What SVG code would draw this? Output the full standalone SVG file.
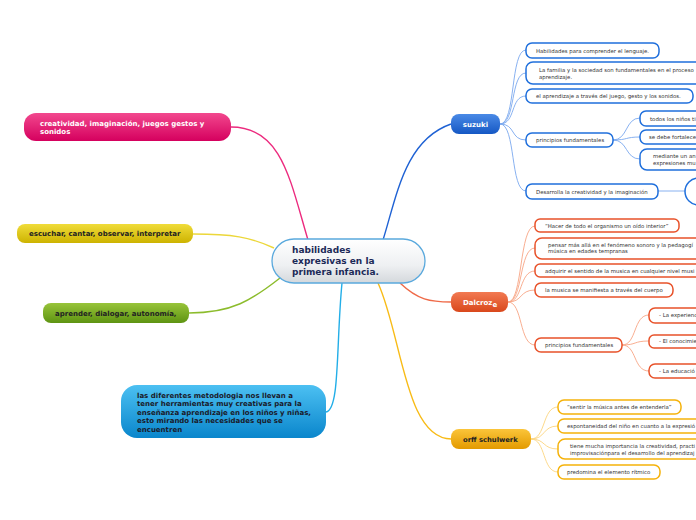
<svg xmlns="http://www.w3.org/2000/svg" width="696" height="520" viewBox="0 0 696 520">
<defs>
<linearGradient id="gC" x1="0" y1="0" x2="0" y2="1"><stop offset="0" stop-color="#ffffff"/><stop offset="0.6" stop-color="#eef0f2"/><stop offset="1" stop-color="#d4d8dc"/></linearGradient>
<linearGradient id="gBlue" x1="0" y1="0" x2="0" y2="1"><stop offset="0" stop-color="#4a8ae6"/><stop offset="1" stop-color="#1558c4"/></linearGradient>
<linearGradient id="gOrange" x1="0" y1="0" x2="0" y2="1"><stop offset="0" stop-color="#f27a52"/><stop offset="1" stop-color="#d9481c"/></linearGradient>
<linearGradient id="gGold" x1="0" y1="0" x2="0" y2="1"><stop offset="0" stop-color="#fbc53a"/><stop offset="1" stop-color="#e39a00"/></linearGradient>
<linearGradient id="gPink" x1="0" y1="0" x2="0" y2="1"><stop offset="0" stop-color="#f2488e"/><stop offset="1" stop-color="#d5005e"/></linearGradient>
<linearGradient id="gYellow" x1="0" y1="0" x2="0" y2="1"><stop offset="0" stop-color="#f0dc3a"/><stop offset="1" stop-color="#cdb300"/></linearGradient>
<linearGradient id="gGreen" x1="0" y1="0" x2="0" y2="1"><stop offset="0" stop-color="#98c43a"/><stop offset="1" stop-color="#5e9412"/></linearGradient>
<linearGradient id="gSky" x1="0" y1="0" x2="0" y2="1"><stop offset="0" stop-color="#4cc0f2"/><stop offset="1" stop-color="#0a86cc"/></linearGradient>
</defs>
<style>
.t{font-family:"DejaVu Sans",Verdana,sans-serif;font-size:5.4px;fill:#333}
.b{font-family:"DejaVu Sans",Verdana,sans-serif;font-weight:bold}
.cb{fill:#fff;stroke:#1f6fdc;stroke-width:1.5}
.co{fill:#fff;stroke:#e8522a;stroke-width:1.5}
.cy{fill:#fff;stroke:#f5b20a;stroke-width:1.5}
.lb{fill:none;stroke:#7aa8ee;stroke-width:0.9}
.lo{fill:none;stroke:#f7a585;stroke-width:0.9}
.ly{fill:none;stroke:#fcd57e;stroke-width:0.9}
.m{fill:none;stroke-width:1.4}
</style>
<g id="connectors">
<path class="m" stroke="#1f62d4" d="M383,240 C397,195 405,140 451,124"/>
<path class="m" stroke="#ef6a48" d="M400,283 C418,300 430,302 451,302"/>
<path class="m" stroke="#f8bb16" d="M378,283 C402,335 405,440 452,439"/>
<path class="m" stroke="#22aee8" d="M342,283 C336,345 340,410 326,412"/>
<path class="m" stroke="#ec2a7e" d="M308,240 C290,180 282,127 231,127"/>
<path class="m" stroke="#ecd73a" d="M274,248 C250,237 232,234 193,234"/>
<path class="m" stroke="#8cbc2c" d="M280,278 C252,300 232,313 189,313"/>
<path class="lb" d="M500,124 C516,124 510,50 526,50"/>
<path class="lb" d="M500,124 C516,124 510,73 526,73"/>
<path class="lb" d="M500,124 C516,124 510,96 526,96"/>
<path class="lb" d="M500,124 C516,124 510,140 526,140"/>
<path class="lb" d="M500,124 C516,124 510,191 526,191"/>
<path class="lb" d="M613,140 C628,140 625,118 640,118"/>
<path class="lb" d="M613,140 C628,140 625,137 640,137"/>
<path class="lb" d="M613,140 C628,140 625,159 640,159"/>
<path class="lb" d="M658,191 L685,191"/>
<path class="lo" d="M508,302 C523,302 519,226 535,226"/>
<path class="lo" d="M508,302 C523,302 519,248 535,248"/>
<path class="lo" d="M508,302 C523,302 519,271 535,271"/>
<path class="lo" d="M508,302 C523,302 519,290 535,290"/>
<path class="lo" d="M508,302 C523,302 519,345 535,345"/>
<path class="lo" d="M622,345 C637,345 633,315 649,315"/>
<path class="lo" d="M622,345 C637,345 633,341 649,341"/>
<path class="lo" d="M622,345 C637,345 633,371 649,371"/>
<path class="ly" d="M531,439 C546,439 542,407 558,407"/>
<path class="ly" d="M531,439 C546,439 542,426 558,426"/>
<path class="ly" d="M531,439 C546,439 542,449 558,449"/>
<path class="ly" d="M531,439 C546,439 542,472 558,472"/>
</g>
<g id="central">
<rect x="272" y="239" width="153" height="44" rx="22" fill="url(#gC)" stroke="#5aa9dd" stroke-width="1.3"/>
<text class="b" font-size="9" fill="#1c2a58"><tspan x="292" y="253">habilidades</tspan><tspan x="292" y="264">expresivas en la</tspan><tspan x="292" y="275">primera infancia.</tspan></text>
</g>
<g id="suzuki">
<rect x="451" y="114" width="49" height="20" rx="8" fill="url(#gBlue)"/>
<text class="b" x="475.5" y="127" font-size="7" fill="#fff" text-anchor="middle">suzuki</text>
</g>
<g id="s1"><rect class="cb" x="526" y="43" width="133" height="15" rx="6"/><text class="t" x="536" y="52.5">Habilidades para comprender el lenguaje.</text></g>
<g id="s2"><rect class="cb" x="526" y="62" width="180" height="22" rx="7"/><text class="t"><tspan x="539" y="72">La familia y la sociedad son fundamentales en el proceso</tspan><tspan x="539" y="79">aprendizaje.</tspan></text></g>
<g id="s3"><rect class="cb" x="526" y="89" width="167" height="14" rx="6"/><text class="t" x="536" y="98">el aprendizaje a través del juego, gesto y los sonidos.</text></g>
<g id="s4"><rect class="cb" x="526" y="133" width="87" height="14" rx="6"/><text class="t" x="536" y="142">principios fundamentales</text></g>
<g id="s41"><rect class="cb" x="640" y="111" width="70" height="15" rx="6"/><text class="t" x="650" y="120.5">todos los niños ti</text></g>
<g id="s42"><rect class="cb" x="640" y="130" width="70" height="14" rx="6"/><text class="t" x="649" y="139">se debe fortalece</text></g>
<g id="s43"><rect class="cb" x="640" y="149" width="70" height="21" rx="7"/><text class="t"><tspan x="653" y="158">mediante un an</tspan><tspan x="653" y="164.5">expresiones mu</tspan></text></g>
<g id="s5"><rect class="cb" x="526" y="184" width="132" height="15" rx="6"/><text class="t" x="536" y="193.5">Desarrolla la creatividad y la imaginación</text></g>
<g id="s51"><rect class="cb" x="685" y="178" width="40" height="27" rx="13.5"/></g>
<g id="dalcroze">
<rect x="451" y="292" width="57" height="20" rx="8" fill="url(#gOrange)"/>
<text class="b" x="463" y="305" font-size="7" fill="#fff">Dalcroz<tspan dy="1.5">e</tspan></text>
</g>
<g id="d1"><rect class="co" x="535" y="219" width="144" height="13" rx="5"/><text class="t" x="545" y="228">“Hacer de todo el organismo un oído interior”</text></g>
<g id="d2"><rect class="co" x="535" y="238" width="175" height="21" rx="7"/><text class="t"><tspan x="548" y="246.5">pensar más allá en el fenómeno sonoro y la pedagogí</tspan><tspan x="548" y="253">música en edades tempranas</tspan></text></g>
<g id="d3"><rect class="co" x="535" y="264" width="175" height="13" rx="5"/><text class="t" x="545" y="272.5">adquirir el sentido de la musica en cualquier nivel musi</text></g>
<g id="d4"><rect class="co" x="535" y="283" width="138" height="14" rx="6"/><text class="t" x="545" y="291.5">la musica se manifiesta a través del cuerpo</text></g>
<g id="d5"><rect class="co" x="535" y="338" width="87" height="14" rx="6"/><text class="t" x="545" y="347">principios fundamentales</text></g>
<g id="d51"><rect class="co" x="649" y="308" width="60" height="15" rx="6"/><text class="t" x="659" y="317">- La experienc</text></g>
<g id="d52"><rect class="co" x="649" y="335" width="60" height="13" rx="5"/><text class="t" x="659" y="343">- El conocimie</text></g>
<g id="d53"><rect class="co" x="649" y="364" width="60" height="14" rx="6"/><text class="t" x="659" y="372.5">- La educació</text></g>
<g id="orff">
<rect x="451" y="429" width="80" height="20" rx="8" fill="url(#gGold)"/>
<text class="b" x="463" y="442" font-size="6.8" fill="#222">orff schulwerk</text>
</g>
<g id="o1"><rect class="cy" x="558" y="400" width="123" height="14" rx="6"/><text class="t" x="567" y="409">“sentir la música antes de entenderla”</text></g>
<g id="o2"><rect class="cy" x="558" y="419" width="150" height="14" rx="6"/><text class="t" x="567" y="428">espontaneidad del niño en cuanto a la expresió</text></g>
<g id="o3"><rect class="cy" x="558" y="439" width="150" height="20" rx="7"/><text class="t"><tspan x="570" y="448">tiene mucha importancia la creatividad, practi</tspan><tspan x="570" y="454.5">improvisaciónpara el desarrollo del aprendizaj</tspan></text></g>
<g id="o4"><rect class="cy" x="558" y="465" width="102" height="14" rx="6"/><text class="t" x="567" y="474">predomina el elemento rítmico</text></g>
<g id="pink">
<rect x="24" y="113" width="207" height="28" rx="12" fill="url(#gPink)"/>
<text class="b" font-size="7" fill="#fff"><tspan x="40" y="126">creatividad, imaginación, juegos gestos y</tspan><tspan x="40" y="134">sonidos</tspan></text>
</g>
<g id="yellow">
<rect x="17" y="224" width="176" height="19" rx="8" fill="url(#gYellow)"/>
<text class="b" x="29" y="236" font-size="7" fill="#222">escuchar, cantar, observar, interpretar</text>
</g>
<g id="green">
<rect x="43" y="303" width="146" height="20" rx="8" fill="url(#gGreen)"/>
<text class="b" x="55" y="316" font-size="7" fill="#222">aprender, dialogar, autonomía,</text>
</g>
<g id="sky">
<rect x="121" y="385" width="205" height="53" rx="16" fill="url(#gSky)"/>
<text class="b" font-size="7" fill="#1a1a2a"><tspan x="137" y="397.5">las diferentes metodologia nos llevan a</tspan><tspan x="137" y="406">tener herramientas muy creativas para la</tspan><tspan x="137" y="414.5">enseñanza aprendizaje en los niños y niñas,</tspan><tspan x="137" y="423">esto mirando las necesidades que se</tspan><tspan x="137" y="431.5">encuentren</tspan></text>
</g>
</svg>
